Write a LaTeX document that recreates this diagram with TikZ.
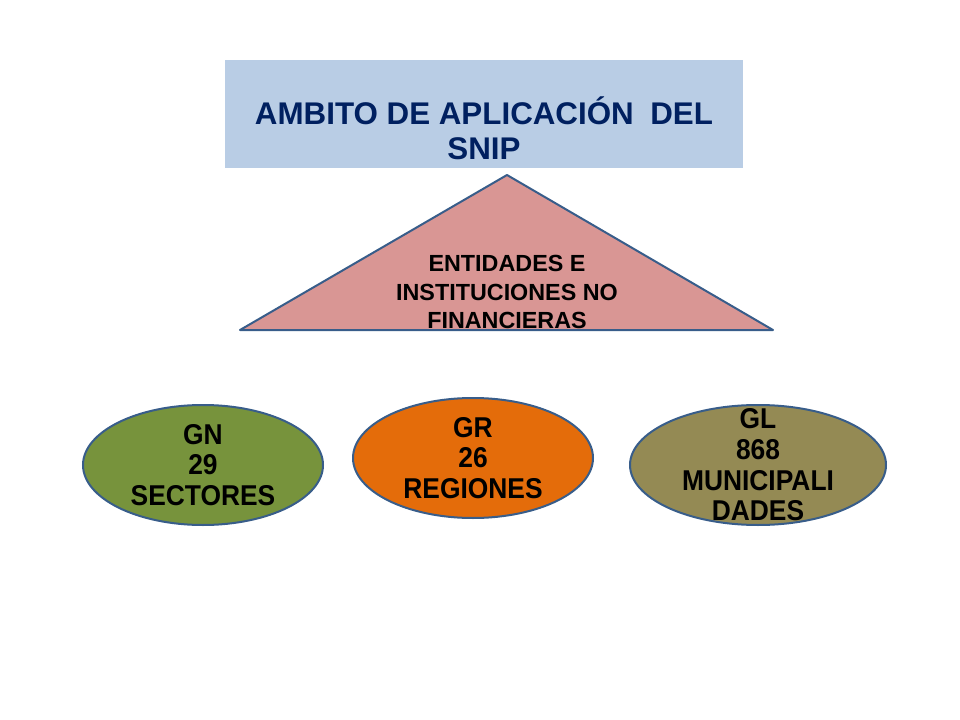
\documentclass[tikz,border=0pt]{standalone}
\usepackage{fontspec}
\setmainfont{Liberation Sans}
\newfontfamily\narrowfont[FakeStretch=0.92]{Liberation Sans}
\definecolor{cajaazul}{HTML}{B9CDE5}
\definecolor{textoazul}{HTML}{002060}
\definecolor{rosa}{HTML}{D99694}
\definecolor{borde}{HTML}{385D8A}
\definecolor{verde}{HTML}{77933C}
\definecolor{naranja}{HTML}{E46C0A}
\definecolor{oliva}{HTML}{948A54}
\tikzset{
	gobierno/.style={ellipse, draw=borde, line width=1.5pt, minimum width=180pt, minimum height=90pt, inner sep=0pt},
	rotulo/.style={align=center, font=\narrowfont\bfseries\fontsize{21.5}{23}\selectfont}
}
\usetikzlibrary{shapes.geometric}
\begin{document}
\begin{tikzpicture}[x=0.75pt, y=-0.75pt]
	
	\useasboundingbox (0,0) rectangle (960,720);
	
	\fill[cajaazul] (225,60) rectangle (743,168);
	\node[textoazul, align=center, font=\bfseries\fontsize{23.5}{26.5}\selectfont] (titulo) at (484,128) {AMBITO DE APLICACIÓN\hspace{0.25em} DEL\\SNIP};
	
	\draw[draw=borde, fill=rosa, line width=1.5pt, line join=round] (507,175) -- (773,330) -- (240,330) -- cycle;
	\node[align=center, font=\bfseries\fontsize{17.5}{21.5}\selectfont] (entidades) at (507,292) {ENTIDADES E\\INSTITUCIONES NO\\FINANCIERAS};
	
	\node[gobierno, fill=verde, minimum width=180pt] (gn) at (203,465) {};
	\node[gobierno, fill=naranja] (gr) at (473,458) {};
	\node[gobierno, fill=oliva, minimum width=192pt] (gl) at (758,465) {};
	
	\node[rotulo] (gntexto) at (gn) {GN\\29\\SECTORES};
	\node[rotulo] (grtexto) at (gr) {GR\\26\\REGIONES};
	\node[rotulo] (gltexto) at (gl) {GL\\868\\MUNICIPALI\\DADES};
	
\end{tikzpicture}
\end{document}
